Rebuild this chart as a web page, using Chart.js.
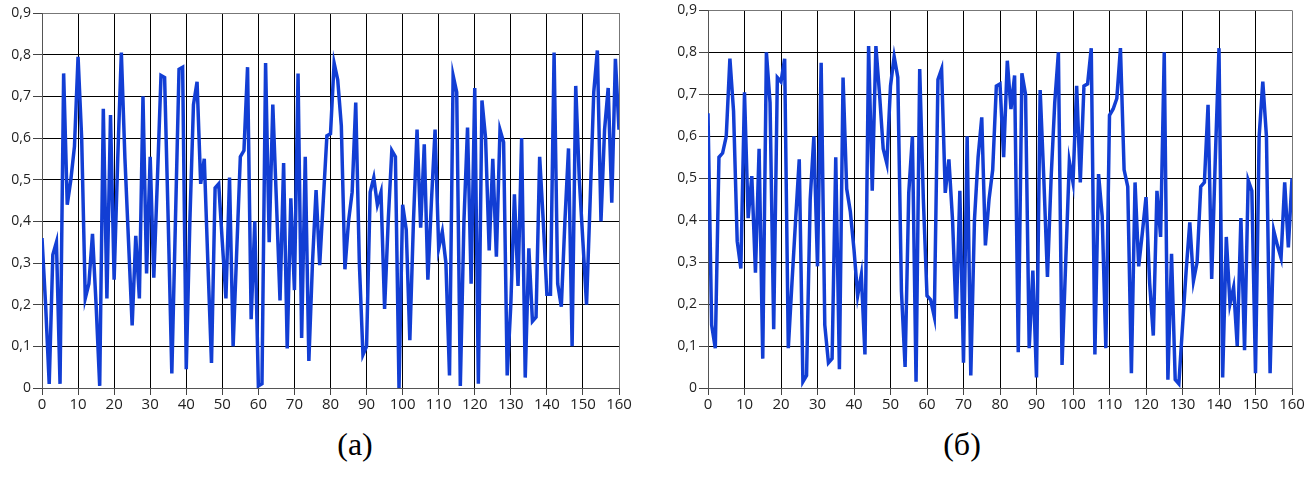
<!DOCTYPE html>
<html>
<head>
<meta charset="utf-8">
<script src="https://cdn.jsdelivr.net/npm/chart.js@4.4.1/dist/chart.umd.min.js"></script>
<style>
  body { margin: 0; background: #fff; width: 1316px; height: 477px; overflow: hidden; position: relative; }
  canvas { position: absolute; top: 0; }
  #grafA { left: 0; }
  #grafB { left: 660px; }
  .legenda { position: absolute; top: 426px; font-family: "Liberation Serif", serif; font-size: 32px; color: #000; transform: translateX(-50%); }
</style>
</head>
<body>
<canvas id="grafA" width="645" height="425"></canvas>
<canvas id="grafB" width="655" height="425"></canvas>
<div class="legenda" style="left:355px">(а)</div>
<div class="legenda" style="left:962px">(б)</div>
<script>
// valores das duas séries, amostras 0..160
const serieA = [
  0.36, 0.20, 0.01, 0.32, 0.35, 0.01, 0.755, 0.44, 0.50, 0.58,
  0.795, 0.60, 0.215, 0.25, 0.37, 0.20, 0.005, 0.67, 0.215, 0.655,
  0.26, 0.55, 0.805, 0.55, 0.35, 0.15, 0.365, 0.215, 0.70, 0.275,
  0.555, 0.265, 0.50, 0.75, 0.745, 0.40, 0.035, 0.40, 0.765, 0.77,
  0.045, 0.40, 0.68, 0.735, 0.49, 0.55, 0.30, 0.06, 0.48, 0.49,
  0.35, 0.215, 0.505, 0.10, 0.33, 0.555, 0.57, 0.77, 0.165, 0.40,
  0.005, 0.01, 0.78, 0.35, 0.68, 0.45, 0.21, 0.54, 0.095, 0.455,
  0.235, 0.755, 0.12, 0.555, 0.065, 0.30, 0.475, 0.295, 0.45, 0.605,
  0.61, 0.78, 0.74, 0.63, 0.285, 0.40, 0.47, 0.685, 0.30, 0.08,
  0.10, 0.47, 0.505, 0.44, 0.47, 0.19, 0.40, 0.57, 0.555, 0.00,
  0.44, 0.38, 0.115, 0.40, 0.62, 0.385, 0.585, 0.26, 0.45, 0.62,
  0.335, 0.375, 0.30, 0.03, 0.75, 0.71, 0.005, 0.40, 0.625, 0.25,
  0.72, 0.01, 0.69, 0.60, 0.33, 0.55, 0.315, 0.62, 0.59, 0.03,
  0.20, 0.465, 0.245, 0.60, 0.025, 0.335, 0.16, 0.17, 0.555, 0.40,
  0.225, 0.225, 0.805, 0.25, 0.195, 0.40, 0.575, 0.10, 0.725, 0.50,
  0.35, 0.20, 0.45, 0.71, 0.81, 0.40, 0.62, 0.72, 0.445, 0.79,
  0.62
];

const serieB = [
  0.655, 0.15, 0.095, 0.55, 0.56, 0.60, 0.785, 0.66, 0.35, 0.285,
  0.705, 0.405, 0.505, 0.275, 0.57, 0.07, 0.80, 0.68, 0.14, 0.74,
  0.73, 0.785, 0.095, 0.25, 0.40, 0.545, 0.015, 0.03, 0.45, 0.60,
  0.29, 0.775, 0.15, 0.06, 0.07, 0.55, 0.045, 0.74, 0.475, 0.42,
  0.33, 0.22, 0.27, 0.08, 0.815, 0.47, 0.815, 0.70, 0.57, 0.535,
  0.72, 0.79, 0.74, 0.23, 0.05, 0.465, 0.60, 0.015, 0.76, 0.45,
  0.22, 0.21, 0.17, 0.735, 0.76, 0.465, 0.545, 0.40, 0.165, 0.47,
  0.06, 0.60, 0.03, 0.40, 0.55, 0.645, 0.34, 0.45, 0.52, 0.72,
  0.725, 0.55, 0.78, 0.665, 0.745, 0.085, 0.75, 0.70, 0.095, 0.28,
  0.025, 0.71, 0.50, 0.265, 0.50, 0.68, 0.80, 0.055, 0.30, 0.54,
  0.49, 0.72, 0.49, 0.72, 0.725, 0.81, 0.08, 0.51, 0.41, 0.095,
  0.65, 0.665, 0.69, 0.81, 0.52, 0.48, 0.035, 0.49, 0.29, 0.37,
  0.455, 0.25, 0.125, 0.47, 0.36, 0.80, 0.02, 0.32, 0.02, 0.01,
  0.146, 0.28, 0.395, 0.255, 0.30, 0.48, 0.49, 0.675, 0.26, 0.55,
  0.81, 0.025, 0.36, 0.20, 0.24, 0.10, 0.405, 0.09, 0.495, 0.47,
  0.035, 0.60, 0.73, 0.60, 0.035, 0.375, 0.34, 0.31, 0.49, 0.335,
  0.50
];

const xTicks = [0, 10, 20, 30, 40, 50, 60, 70, 80, 90, 100, 110, 120, 130, 140, 150, 160];
const yTicks = ['0', '0,1', '0,2', '0,3', '0,4', '0,5', '0,6', '0,7', '0,8', '0,9'];

const familia = '"Segoe UI", "Open Sans", "Noto Sans", sans-serif';
const corLinha = 'rgb(18, 62, 212)';

function pontos(serie) {
  return serie.map((v, i) => ({ x: i, y: v }));
}

function criaGrafico(id, serie, larguraY, padTop, padRight) {
  return new Chart(document.getElementById(id), {
    type: 'line',
    data: {
      datasets: [{
        data: pontos(serie),
        borderColor: corLinha,
        borderWidth: 3.5,
        pointRadius: 0,
        tension: 0,
        fill: false
      }]
    },
    options: {
      responsive: false,
      animation: false,
      devicePixelRatio: 1,
      layout: { padding: { top: padTop, right: padRight, left: 0, bottom: 0 } },
      plugins: { legend: { display: false }, tooltip: { enabled: false } },
      scales: {
        x: {
          type: 'linear',
          min: 0,
          max: 160,
          afterBuildTicks: s => { s.ticks = xTicks.map(v => ({ value: v })); },
          afterFit: s => { s.height = 37; },
          ticks: { color: '#222', font: { family: familia, size: 15 }, padding: 1, maxRotation: 0, autoSkip: false },
          grid: {
            color: c => (c.tick && c.tick.value === 160) ? '#777' : '#000',
            lineWidth: 1,
            tickLength: 7,
            tickColor: '#444'
          },
          border: { color: '#555', width: 1 }
        },
        y: {
          min: 0,
          max: 0.9,
          afterBuildTicks: s => { s.ticks = yTicks.map((_, i) => ({ value: i / 10 })); },
          afterFit: s => { s.width = larguraY; },
          ticks: {
            color: '#222',
            font: { family: familia, size: 14 },
            padding: 2,
            autoSkip: false,
            callback: (v, i) => yTicks[i]
          },
          grid: {
            color: c => (c.tick && c.index === yTicks.length - 1) ? '#777' : '#000',
            lineWidth: 1,
            tickLength: 9,
            tickColor: '#444'
          },
          border: { color: '#555', width: 1 }
        }
      }
    }
  });
}

criaGrafico('grafA', serieA, 42, 13, 26);
criaGrafico('grafB', serieB, 48, 10, 23);
</script>
</body>
</html>
